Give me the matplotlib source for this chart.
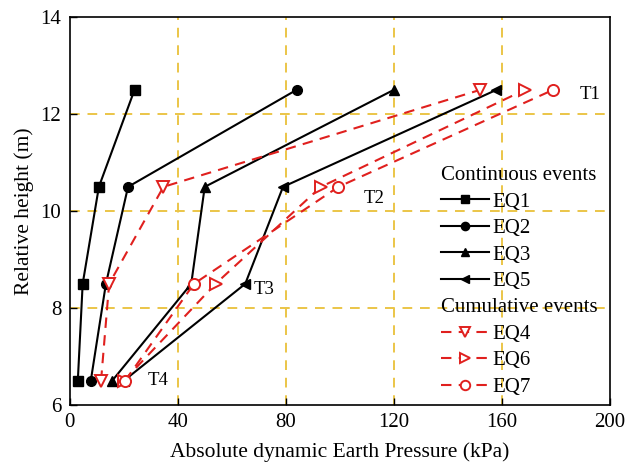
import matplotlib
matplotlib.use("Agg")
import matplotlib.pyplot as plt
from matplotlib.lines import Line2D

plt.rcParams['font.family'] = ['Liberation Serif', 'DejaVu Serif']

heights = [6.5, 8.5, 10.5, 12.5]

# Continuous events
eq1 = [3, 4.8, 10.8, 24]
eq2 = [7.8, 13.4, 21.6, 84]
eq3 = [15.7, 45, 50, 120]
eq5 = [20, 65, 79, 158]

# Cumulative events
eq4 = [11.6, 14.6, 34.7, 152]
eq6 = [20, 54, 93, 168.5]
eq7 = [20.5, 46, 99.5, 179]

x_ticks = [0, 40, 80, 120, 160, 200]
y_ticks = [6, 8, 10, 12, 14]

stage_labels = ["T1", "T2", "T3", "T4"]
stage_pos = [(189, 12.4), (109, 10.25), (68, 8.38), (29, 6.5)]

fig = plt.figure(figsize=(6.28, 4.76), dpi=100)
ax = fig.add_axes([0.111, 0.149, 0.86, 0.815])

grid_color = '#EBC547'
for gx in x_ticks[1:-1]:
    ax.axvline(gx, color=grid_color, lw=1.4, ls=(0, (5, 4)), zorder=0)
for gy in y_ticks[1:-1]:
    ax.axhline(gy, color=grid_color, lw=1.4, ls=(0, (5, 4)), zorder=0)

black_kw = dict(color='black', lw=1.5, ms=7)
ax.plot(eq1, heights, marker='s', label='EQ1', **black_kw)
ax.plot(eq2, heights, marker='o', label='EQ2', **black_kw)
ax.plot(eq3, heights, marker='^', label='EQ3', **black_kw)
ax.plot(eq5, heights, marker='<', label='EQ5', **black_kw)

red = '#E0201E'
red_kw = dict(color=red, lw=1.5, ls=(0, (5, 3.5)), ms=8, mfc='white', mec=red, mew=1.4)
ax.plot(eq4, heights, marker='v', label='EQ4', **red_kw)
ax.plot(eq6, heights, marker='>', label='EQ6', **red_kw)
ax.plot(eq7, heights, marker='o', label='EQ7', **red_kw)

for lab, (tx, ty) in zip(stage_labels, stage_pos):
    ax.text(tx, ty, lab, fontsize=13.5, va='center', ha='left')

ax.set_xlim(0, 200)
ax.set_ylim(6, 14)
ax.set_xticks(x_ticks)
ax.set_yticks(y_ticks)
ax.tick_params(direction='in', labelsize=15, length=5, width=1, pad=6)
for s in ax.spines.values():
    s.set_linewidth(1.2)

ax.set_xlabel('Absolute dynamic Earth Pressure (kPa)', fontsize=15.5, labelpad=7)
ax.set_ylabel('Relative height (m)', fontsize=15.5, labelpad=5)

handles, labels = ax.get_legend_handles_labels()
blank = Line2D([], [], color='none')
order = ['EQ1', 'EQ2', 'EQ3', 'EQ5', 'EQ4', 'EQ6', 'EQ7']
hmap = dict(zip(labels, handles))
leg_handles = [blank] + [hmap[k] for k in order[:4]] + [blank] + [hmap[k] for k in order[4:]]
leg_labels = ['Continuous events'] + order[:4] + ['Cumulative events'] + order[4:]
leg = ax.legend(leg_handles, leg_labels, loc='upper left', bbox_to_anchor=(0.66, 0.655),
                frameon=False, fontsize=15, handlelength=2.3, handletextpad=0.2,
                labelspacing=0.33, borderpad=0.2, markerscale=0.85)

# headers sit flush left without a handle slot
header_rows = {0, 5}
rows = leg._legend_handle_box.get_children()[0].get_children()
for i, hp in enumerate(rows):
    if i in header_rows:
        hp.get_children()[0].set_width(0)
        hp.sep = 0

fig.savefig('out.png', dpi=100)
